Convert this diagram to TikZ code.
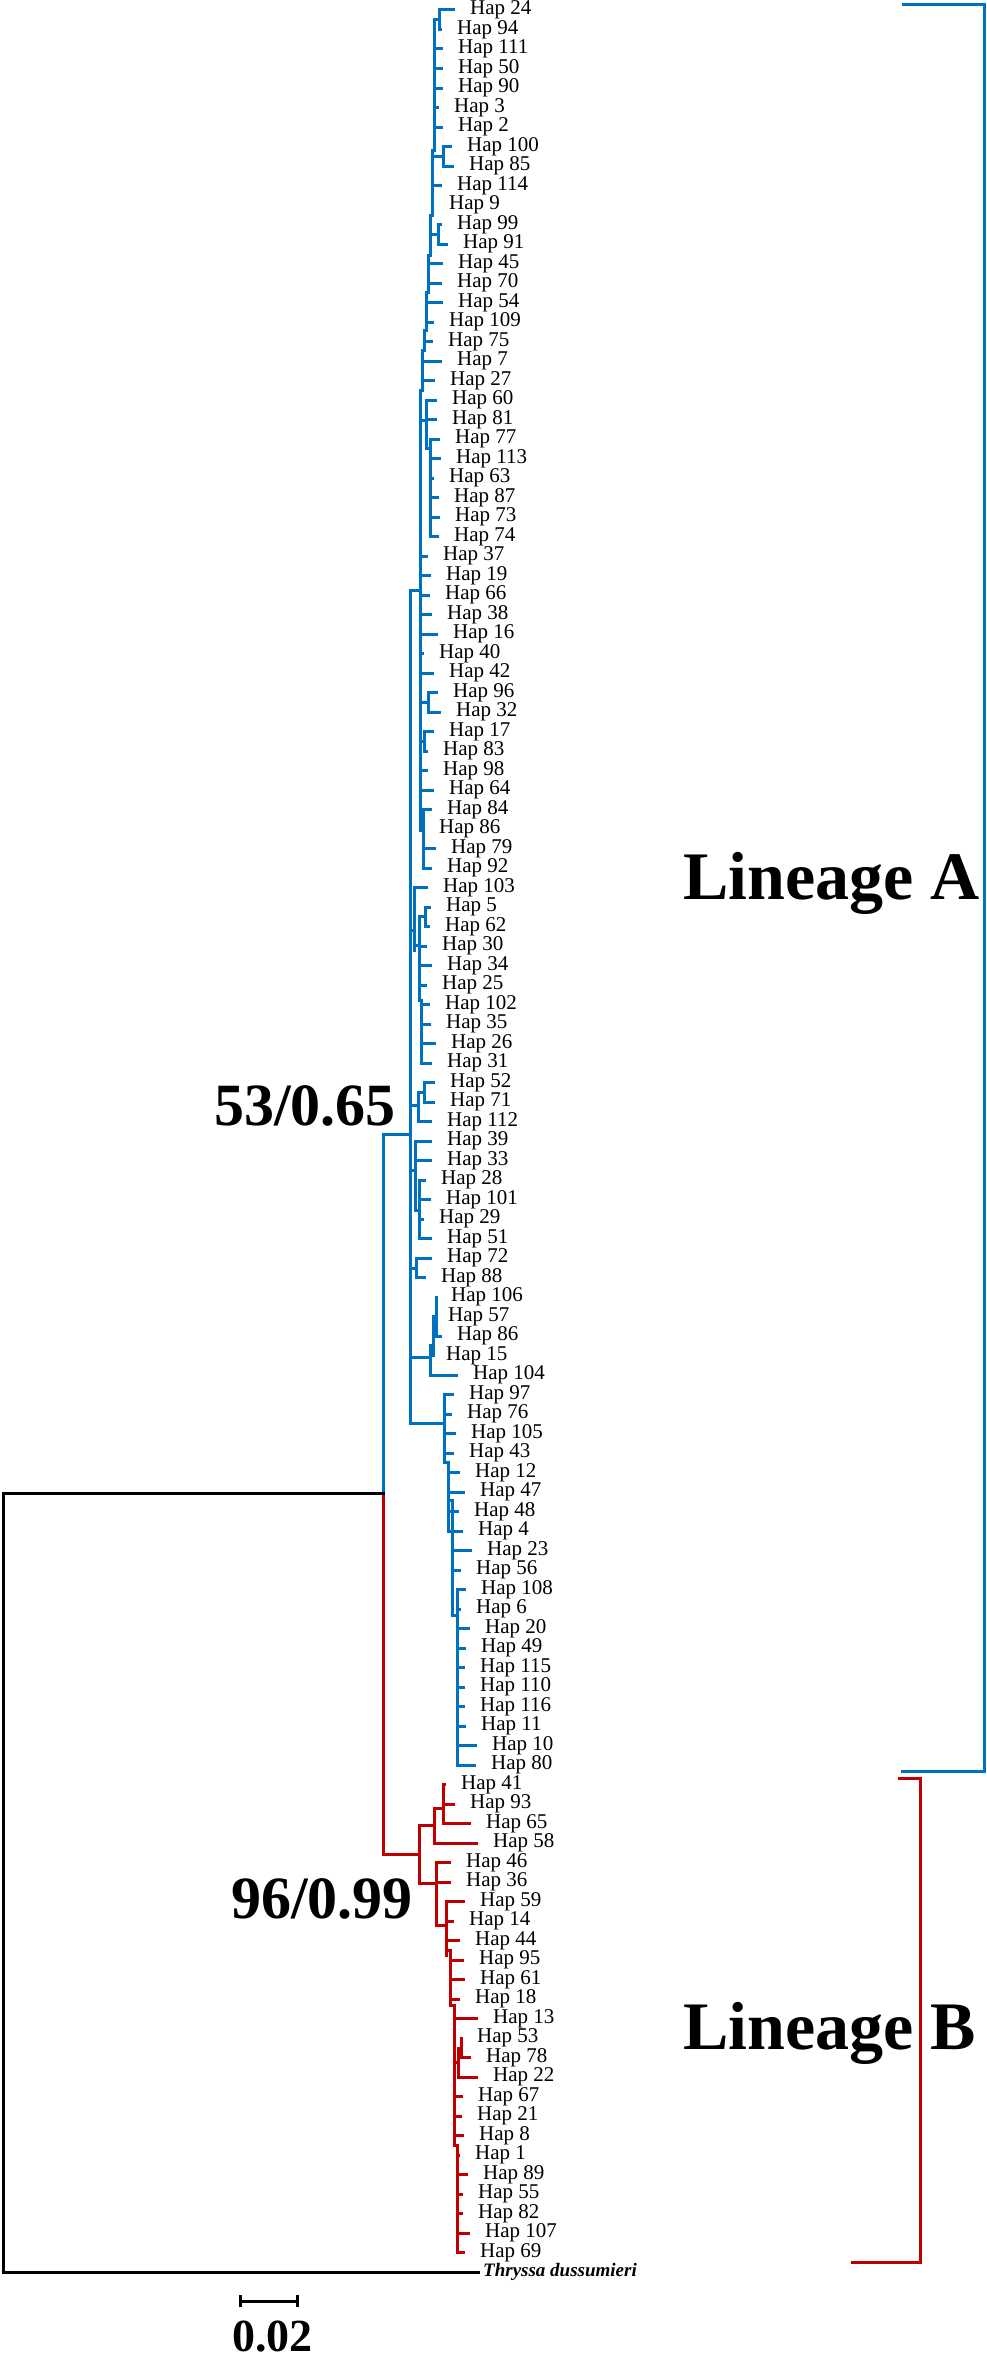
\documentclass[tikz,border=0pt]{standalone}
\usepackage{fontspec}
\setmainfont{Liberation Serif}
\definecolor{blu}{RGB}{0,112,192}
\definecolor{rd}{RGB}{192,0,0}
\tikzset{
  br/.style={line width=3pt, line cap=rect},
  hap/.style={anchor=west, inner sep=0pt, font=\fontsize{21}{21}\selectfont},
  big/.style={inner sep=0pt, font=\fontsize{68}{68}\selectfont\bfseries},
  sup/.style={inner sep=0pt, font=\fontsize{60}{60}\selectfont\bfseries},
}
\newcommand{\lf}[5]{%
  \pgfmathsetmacro{\yy}{10+(#1-1)*19.5}%
  \pgfmathsetmacro{\tx}{max(#4-17,#3)}%
  \draw[br,#2] (#3,\yy) -- (\tx,\yy);%
  \node[hap] (l#1) at (#4,\yy) {Hap #5};%
}
\begin{document}
\begin{tikzpicture}[x=1pt,y=-1pt]
\useasboundingbox (0,0) rectangle (986,2358);
\begin{scope}[br,blu]
% upper ladder
\draw (434,20) -- (434,150) -- (432,150) -- (432,215) -- (430,215) -- (430,255) -- (428,255) -- (428,292) -- (426,292) -- (426,330) -- (424,330) -- (424,350) -- (422,350) -- (422,390) -- (420,390) -- (420,830);
\draw (434,20) -- (439,20); \draw (439,10) -- (439,29.5);
\draw (432,156) -- (443,156); \draw (443,146.5) -- (443,166);
\draw (430,234) -- (438,234); \draw (438,224.5) -- (438,244);
\draw (420,420) -- (426,420); \draw (426,400) -- (426,448); \draw (426,448) -- (430,448); \draw (430,439) -- (430,536.5);
\draw (420,702) -- (428,702); \draw (428,692.5) -- (428,712);
\draw (420,741) -- (424,741); \draw (424,731.5) -- (424,751);
\draw (423,809.5) -- (423,868);
% lineage A backbone
\draw (410,590) -- (420,590);
\draw (410,590) -- (410,1423);
\draw (383,1134) -- (410,1134);
\draw (383,1134) -- (383,1493);
% X1
\draw (410,930) -- (414,930); \draw (414,887.5) -- (414,950); \draw (414,945) -- (419,945);
\draw (419,916) -- (419,1000) -- (421,1000) -- (421,1063);
\draw (419,916.75) -- (425,916.75); \draw (425,907) -- (425,926.5);
% X2
\draw (410,1105) -- (418,1105); \draw (418,1092) -- (418,1121.5);
\draw (418,1092) -- (424,1092); \draw (424,1082.5) -- (424,1102);
% X3
\draw (410,1170) -- (415,1170); \draw (415,1141) -- (415,1210); \draw (415,1210) -- (419,1210); \draw (419,1180) -- (419,1238.5);
% X4
\draw (410,1268) -- (416,1268); \draw (416,1258) -- (416,1277.5);
% X5
\draw (410,1357) -- (430,1357); \draw (430,1345) -- (430,1375);
\draw (430,1345) -- (433,1345); \draw (433,1316.5) -- (433,1355.5);
\draw (433,1326) -- (436,1326); \draw (436,1297) -- (436,1336);
% X6
\draw (410,1423) -- (444,1423); \draw (444,1394.5) -- (444,1462);
\draw (444,1462) -- (448,1462); \draw (448,1462) -- (448,1531);
\draw (448,1500) -- (452,1500); \draw (452,1500) -- (452,1615);
\draw (452,1615) -- (457,1615); \draw (457,1589.5) -- (457,1765);
\end{scope}
\lf{1}{blu}{439}{470}{24}
\lf{2}{blu}{439}{457}{94}
\lf{3}{blu}{434}{458}{111}
\lf{4}{blu}{434}{458}{50}
\lf{5}{blu}{434}{458}{90}
\lf{6}{blu}{434}{454}{3}
\lf{7}{blu}{434}{458}{2}
\lf{8}{blu}{443}{467}{100}
\lf{9}{blu}{443}{469}{85}
\lf{10}{blu}{432}{457}{114}
\lf{11}{blu}{432}{449}{9}
\lf{12}{blu}{438}{457}{99}
\lf{13}{blu}{438}{463}{91}
\lf{14}{blu}{428}{458}{45}
\lf{15}{blu}{428}{457}{70}
\lf{16}{blu}{426}{458}{54}
\lf{17}{blu}{426}{449}{109}
\lf{18}{blu}{424}{448}{75}
\lf{19}{blu}{422}{457}{7}
\lf{20}{blu}{422}{450}{27}
\lf{21}{blu}{426}{452}{60}
\lf{22}{blu}{426}{452}{81}
\lf{23}{blu}{430}{455}{77}
\lf{24}{blu}{430}{456}{113}
\lf{25}{blu}{430}{449}{63}
\lf{26}{blu}{430}{454}{87}
\lf{27}{blu}{430}{455}{73}
\lf{28}{blu}{430}{454}{74}
\lf{29}{blu}{420}{443}{37}
\lf{30}{blu}{420}{446}{19}
\lf{31}{blu}{420}{445}{66}
\lf{32}{blu}{420}{447}{38}
\lf{33}{blu}{420}{453}{16}
\lf{34}{blu}{420}{439}{40}
\lf{35}{blu}{420}{449}{42}
\lf{36}{blu}{428}{453}{96}
\lf{37}{blu}{428}{456}{32}
\lf{38}{blu}{424}{449}{17}
\lf{39}{blu}{424}{443}{83}
\lf{40}{blu}{420}{443}{98}
\lf{41}{blu}{420}{449}{64}
\lf{42}{blu}{423}{447}{84}
\lf{43}{blu}{423}{439}{86}
\lf{44}{blu}{423}{451}{79}
\lf{45}{blu}{423}{447}{92}
\lf{46}{blu}{414}{443}{103}
\lf{47}{blu}{425}{446}{5}
\lf{48}{blu}{425}{445}{62}
\lf{49}{blu}{419}{442}{30}
\lf{50}{blu}{419}{447}{34}
\lf{51}{blu}{419}{442}{25}
\lf{52}{blu}{421}{445}{102}
\lf{53}{blu}{421}{446}{35}
\lf{54}{blu}{421}{451}{26}
\lf{55}{blu}{421}{447}{31}
\lf{56}{blu}{424}{450}{52}
\lf{57}{blu}{424}{450}{71}
\lf{58}{blu}{418}{447}{112}
\lf{59}{blu}{415}{447}{39}
\lf{60}{blu}{415}{447}{33}
\lf{61}{blu}{419}{441}{28}
\lf{62}{blu}{419}{446}{101}
\lf{63}{blu}{419}{439}{29}
\lf{64}{blu}{419}{447}{51}
\lf{65}{blu}{416}{447}{72}
\lf{66}{blu}{416}{441}{88}
\lf{67}{blu}{436}{451}{106}
\lf{68}{blu}{433}{448}{57}
\lf{69}{blu}{436}{457}{86}
\lf{70}{blu}{433}{446}{15}
\lf{71}{blu}{430}{473}{104}
\lf{72}{blu}{444}{469}{97}
\lf{73}{blu}{444}{467}{76}
\lf{74}{blu}{444}{471}{105}
\lf{75}{blu}{444}{469}{43}
\lf{76}{blu}{448}{475}{12}
\lf{77}{blu}{448}{480}{47}
\lf{78}{blu}{448}{474}{48}
\lf{79}{blu}{448}{478}{4}
\lf{80}{blu}{452}{487}{23}
\lf{81}{blu}{452}{476}{56}
\lf{82}{blu}{457}{481}{108}
\lf{83}{blu}{457}{476}{6}
\lf{84}{blu}{457}{485}{20}
\lf{85}{blu}{457}{481}{49}
\lf{86}{blu}{457}{480}{115}
\lf{87}{blu}{457}{480}{110}
\lf{88}{blu}{457}{480}{116}
\lf{89}{blu}{457}{481}{11}
\lf{90}{blu}{457}{492}{10}
\lf{91}{blu}{457}{491}{80}
% lineage B
\begin{scope}[br,rd]
\draw (383,1493) -- (383,1854); \draw (383,1854) -- (419,1854);
\draw (419,1825) -- (419,1883);
\draw (419,1825) -- (434,1825); \draw (434,1808) -- (434,1843);
\draw (434,1808) -- (443,1808); \draw (443,1784.5) -- (443,1823.5);
\draw (419,1883) -- (436,1883);
\draw (436,1862.5) -- (436,1925); \draw (436,1925) -- (446,1925);
\draw (446,1901.5) -- (446,1955); \draw (446,1950) -- (450,1950);
\draw (450,1950) -- (450,2005); \draw (450,2005) -- (454,2005);
\draw (454,2005) -- (454,2145); \draw (454,2145) -- (457,2145);
\draw (457,2145) -- (457,2252.5);
\draw (454,2062) -- (458,2062); \draw (458,2048) -- (458,2077);
\draw (458,2048) -- (461,2048); \draw (461,2038) -- (461,2057.5);
\end{scope}
\lf{92}{rd}{443}{461}{41}
\lf{93}{rd}{443}{470}{93}
\lf{94}{rd}{443}{486}{65}
\lf{95}{rd}{434}{493}{58}
\lf{96}{rd}{436}{466}{46}
\lf{97}{rd}{436}{466}{36}
\lf{98}{rd}{446}{480}{59}
\lf{99}{rd}{446}{469}{14}
\lf{100}{rd}{446}{475}{44}
\lf{101}{rd}{450}{479}{95}
\lf{102}{rd}{450}{480}{61}
\lf{103}{rd}{450}{475}{18}
\lf{104}{rd}{454}{493}{13}
\lf{105}{rd}{461}{477}{53}
\lf{106}{rd}{461}{486}{78}
\lf{107}{rd}{458}{493}{22}
\lf{108}{rd}{454}{478}{67}
\lf{109}{rd}{454}{477}{21}
\lf{110}{rd}{454}{479}{8}
\lf{111}{rd}{457}{475}{1}
\lf{112}{rd}{457}{483}{89}
\lf{113}{rd}{457}{478}{55}
\lf{114}{rd}{457}{478}{82}
\lf{115}{rd}{457}{485}{107}
\lf{116}{rd}{457}{480}{69}
% root and outgroup
\node[anchor=west, inner sep=0pt, font=\fontsize{19}{19}\selectfont\bfseries\itshape] (out) at (483,2272) {Thryssa dussumieri};
\draw[br] (383,1493) -- (3,1493) -- (3,2272) -- (478,2272);
% brackets
\draw[br,blu] (903,5) -- (984,5) -- (984,1771) -- (902,1771);
\draw[br,rd] (899,1778) -- (920,1778) -- (920,2262) -- (852,2262);
\node[big, anchor=base west] (la) at (683,899) {Lineage A};
\node[big, anchor=base west] (lb) at (683,2049) {Lineage B};
\node[sup, anchor=base east] (sa) at (396,1125) {53/0.65};
\node[sup, anchor=base east] (sb) at (413,1918) {96/0.99};
% scale bar
\draw[br, line cap=butt] (240,2301) -- (297,2301);
\draw[br, line cap=butt] (240,2295) -- (240,2307);
\draw[br, line cap=butt] (297,2295) -- (297,2307);
\node[inner sep=0pt, anchor=base west, font=\fontsize{46}{46}\selectfont\bfseries] (sc) at (232,2351) {0.02};
\end{tikzpicture}
\end{document}
